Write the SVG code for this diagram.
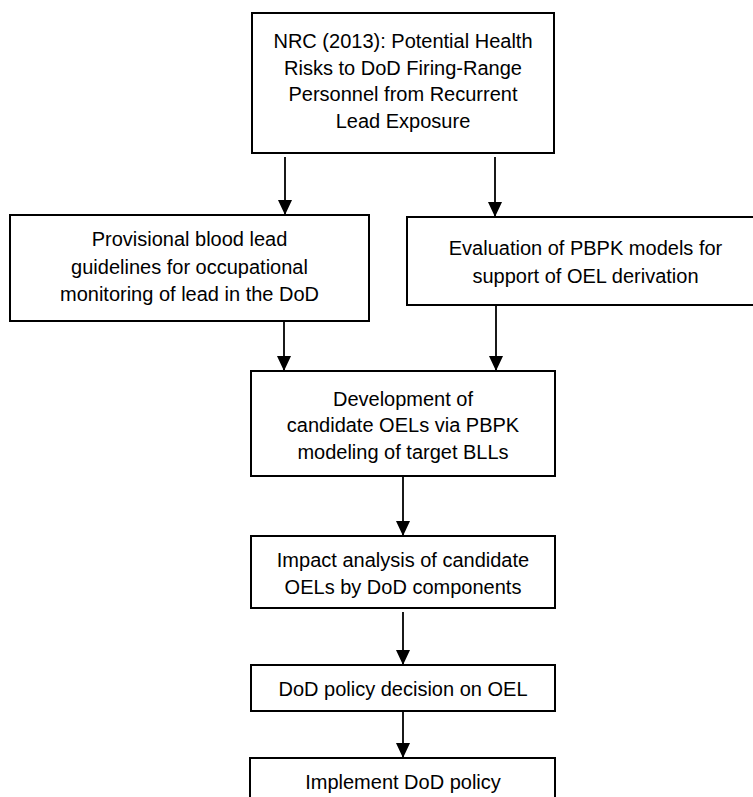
<svg xmlns="http://www.w3.org/2000/svg" width="753" height="797" viewBox="0 0 753 797">
<style>
.box{fill:#fff;stroke:#000;stroke-width:2}
.t{font-family:"Liberation Sans",Arial,sans-serif;font-size:20px;fill:#000;text-anchor:middle}
.c{stroke:#000;stroke-width:1.8;fill:none;marker-end:url(#ah)}
</style>
<defs>
<marker id="ah" markerUnits="userSpaceOnUse" markerWidth="16" markerHeight="14" refX="15" refY="7" orient="auto">
<path d="M0,0 L15,7 L0,14 Z" fill="#000"/>
</marker>
</defs>
<rect width="753" height="797" fill="#fff"/>
<g id="connectors">
<line class="c" x1="285" y1="157" x2="285" y2="215"/>
<line class="c" x1="495" y1="157" x2="495" y2="217"/>
<line class="c" x1="284" y1="321" x2="284" y2="371"/>
<line class="c" x1="496" y1="305" x2="496" y2="371"/>
<line class="c" x1="403" y1="476" x2="403" y2="536"/>
<line class="c" x1="403" y1="612" x2="403" y2="665"/>
<line class="c" x1="403" y1="712" x2="403" y2="758"/>
</g>
<g id="nrc">
<rect class="box" x="252" y="13" width="302" height="140"/>
<text class="t" x="403" y="48">NRC (2013): Potential Health</text>
<text class="t" x="403" y="74.5">Risks to DoD Firing-Range</text>
<text class="t" x="403" y="101">Personnel from Recurrent</text>
<text class="t" x="403" y="127.5">Lead Exposure</text>
</g>
<g id="provisional">
<rect class="box" x="10" y="215" width="359" height="106"/>
<text class="t" x="189.5" y="246">Provisional blood lead</text>
<text class="t" x="189.5" y="273.5">guidelines for occupational</text>
<text class="t" x="189.5" y="300.5">monitoring of lead in the DoD</text>
</g>
<g id="evaluation">
<rect class="box" x="407" y="217" width="356" height="88"/>
<text class="t" x="585.5" y="255">Evaluation of PBPK models for</text>
<text class="t" x="585.5" y="282.5">support of OEL derivation</text>
</g>
<g id="development">
<rect class="box" x="251" y="371" width="304" height="105"/>
<text class="t" x="403" y="405.5">Development of</text>
<text class="t" x="403" y="432">candidate OELs via PBPK</text>
<text class="t" x="403" y="458.5">modeling of target BLLs</text>
</g>
<g id="impact">
<rect class="box" x="251" y="536" width="304" height="72"/>
<text class="t" x="403" y="567">Impact analysis of candidate</text>
<text class="t" x="403" y="594">OELs by DoD components</text>
</g>
<g id="decision">
<rect class="box" x="251" y="665" width="304" height="46"/>
<text class="t" x="403" y="696">DoD policy decision on OEL</text>
</g>
<g id="implement">
<rect class="box" x="250" y="758" width="305" height="60"/>
<text class="t" x="403" y="789">Implement DoD policy</text>
</g>
</svg>
